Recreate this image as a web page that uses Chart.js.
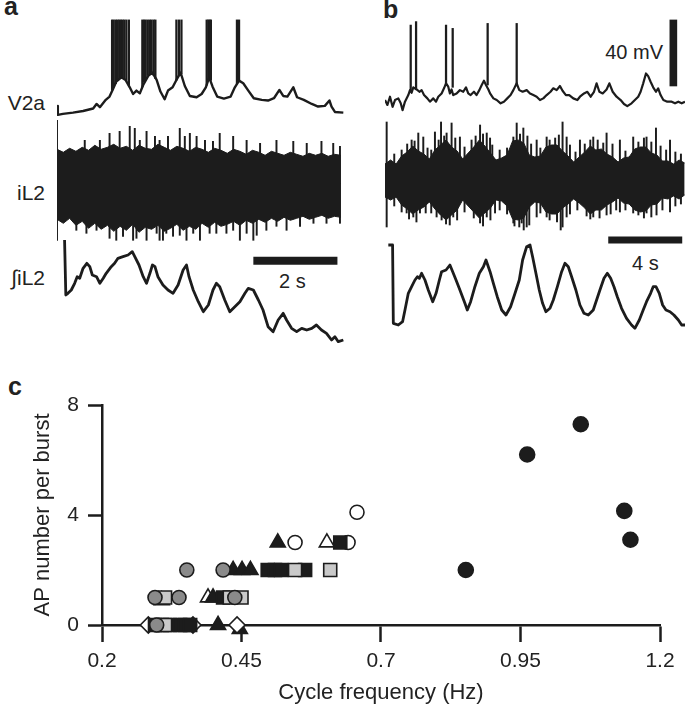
<!DOCTYPE html>
<html>
<head>
<meta charset="utf-8">
<script src="https://cdn.jsdelivr.net/npm/chart.js@4.4.0/dist/chart.umd.min.js"></script>
<style>
  body { margin: 0; background: #fff; width: 685px; height: 706px; position: relative; overflow: hidden;
         font-family: "Liberation Sans", Arial, Helvetica, sans-serif; color: #222; }
  canvas, .lbl { position: absolute; }
  .lbl { font-size: 20px; line-height: 1; white-space: nowrap; }
  .trace { font-size: 21px; }
  .panel { font-weight: bold; font-size: 25px; }
</style>
</head>
<body>
<div class="lbl panel" style="left:4px;top:-6px">a</div>
<div class="lbl panel" style="left:383px;top:-3px">b</div>
<div class="lbl panel" style="left:8px;top:374px">c</div>

<div class="lbl trace" style="right:640px;top:92px">V2a</div>
<div class="lbl trace" style="right:640px;top:182px">iL2</div>
<div class="lbl trace" style="right:640px;top:267px">∫iL2</div>
<div class="lbl" style="left:279px;top:271px">2 s</div>
<div class="lbl" style="right:22px;top:42px">40 mV</div>
<div class="lbl" style="left:632px;top:253px">4 s</div>

<canvas id="v2aA" style="left:57px;top:15px" width="288" height="110"></canvas>
<canvas id="il2A" style="left:57px;top:118px" width="288" height="130"></canvas>
<canvas id="intA" style="left:57px;top:238px" width="288" height="110"></canvas>
<canvas id="v2aB" style="left:385px;top:15px" width="300" height="105"></canvas>
<canvas id="il2B" style="left:385px;top:113px" width="300" height="122"></canvas>
<canvas id="intB" style="left:385px;top:228px" width="300" height="110"></canvas>
<canvas id="scatter" style="left:0;top:380px" width="685" height="326"></canvas>

<script>
const INK = '#1c1c1c';

// ---- panel a: V2a membrane potential (s, mV) ----
const v2aTimeA = [0,0.02,0.14,0.38,0.62,0.86,0.94,1.02,1.16,1.25,1.33,1.41,1.53,1.63,1.73,1.81,1.89,1.97,2.05,2.17,
  2.27,2.37,2.46,2.56,2.64,2.75,2.84,2.94,3.04,3.16,3.32,3.44,3.54,3.62,3.70,3.81,3.97,4.13,4.23,4.33,
  4.43,4.55,4.68,4.87,5.02,5.16,5.29,5.38,5.48,5.62,5.71,5.87,6.06,6.21,6.37,6.48,6.53,6.61,6.81];
const v2aMvA = [-55.7,-61.2,-60.6,-59.8,-58.8,-57.3,-54.5,-56.5,-52.0,-50.0,-45.5,-40.8,-38.2,-39.8,-44.3,-48.4,-46.3,-48.0,-42.9,-37.3,
  -35.3,-39.8,-46.9,-51.6,-46.3,-44.3,-39.8,-35.3,-43.5,-49.6,-50.4,-48.4,-44.3,-38.2,-43.9,-50.0,-51.2,-50.0,-44.3,-40.2,
  -41.8,-46.3,-51.0,-52.0,-52.4,-51.0,-45.9,-49.6,-50.0,-44.3,-50.4,-52.0,-54.5,-56.1,-55.7,-52.4,-56.1,-59.4,-59.8];
const spikeTimeA = [1.31,1.35,1.40,1.44,1.48,1.52,1.56,1.60,1.65,1.71, 2.03,2.07,2.11,2.16,2.21,2.25,2.30,2.34,
  2.84,2.90,2.96, 3.56,3.60,3.63,3.66, 4.28,4.33];
const spikeBaseA = [-46,-44,-42,-40,-39,-38,-38,-39,-40,-43, -44,-41,-39,-37,-36,-35,-37,-39,
  -40,-37,-36, -43,-40,-38,-40, -42,-40];
const spikePeakA = [-3,-3,-3,-3,-3,-3,-3,-3,-3,-3, -3,-3,-3,-3,-3,-3,-3,-3, -3,-3,-3, -3,-3,-3,-3, -3,-3];

// ---- panel a: iL2 ventral root (a.u.), envelope sampled every 0.15 s ----
const il2StepA = 0.15;
const il2UpperA = [3.4,3.1,3.5,3.2,3.6,3.3,3.8,3.4,3.6,3.9,3.5,3.7,3.3,3.8,3.5,3.4,3.9,3.6,3.3,3.7,3.5,3.2,3.6,
  3.4,3.1,3.5,3.3,3.0,3.4,3.2,2.9,3.3,3.1,2.8,3.2,3.0,2.8,3.1,2.9,2.7,3.0,2.8,3.0,2.7,2.9,2.8];
const il2LowerA = [-3.6,-4.0,-3.5,-4.2,-3.8,-4.5,-4.0,-4.6,-4.2,-4.8,-4.3,-4.7,-4.1,-4.9,-4.4,-4.6,-4.2,-4.8,-4.5,-4.1,-4.7,-4.3,-4.6,
  -4.0,-4.4,-3.9,-4.3,-4.1,-3.8,-4.2,-3.7,-4.0,-3.6,-3.9,-3.5,-3.8,-3.4,-3.7,-3.5,-3.3,-3.6,-3.4,-3.2,-3.5,-3.3,-3.4];
const il2UpTimeA = [0,0.66,1.02,1.25,1.49,1.73,1.85,1.97,2.13,2.33,2.44,2.64,2.92,3.04,3.16,3.32,3.52,3.71,3.87,4.19,
  4.51,4.83,5.22,5.62,5.94,6.29,6.57,6.73];
const il2UpA = [6.3,4.3,4.3,5.0,5.2,5.7,5.5,4.3,5.2,4.7,4.3,4.7,5.5,4.7,5.0,4.7,4.3,4.2,5.0,4.7,
  4.3,4.0,4.3,4.2,4.0,4.2,4.0,3.7];
const il2DownTimeA = [0,0.46,0.70,0.94,1.25,1.41,1.57,1.81,1.89,2.13,2.37,2.44,2.52,2.60,2.76,2.92,3.08,3.24,3.40,3.63,
  3.79,4.03,4.19,4.35,4.51,4.67,4.75,4.98,5.22,5.46,5.78,6.10,6.41,6.73];
const il2DownA = [-5.7,-4.7,-5.0,-4.7,-5.5,-5.7,-5.3,-5.7,-5.5,-5.7,-5.0,-5.7,-5.7,-5.0,-5.3,-5.2,-5.7,-5.0,-5.7,-5.0,
  -5.0,-5.0,-4.7,-5.7,-5.0,-5.7,-5.2,-4.7,-4.3,-4.7,-4.3,-4.0,-4.0,-4.0];

// ---- panel a: integrated iL2 (a.u.) ----
const intTimeA = [0.18,0.21,0.26,0.34,0.42,0.48,0.54,0.62,0.71,0.78,0.84,0.94,1.02,1.10,1.17,1.29,1.37,1.45,1.57,1.69,
  1.79,1.85,1.95,2.05,2.13,2.21,2.27,2.33,2.40,2.52,2.64,2.76,2.88,3.00,3.08,3.14,3.24,3.36,3.48,3.60,
  3.71,3.79,3.87,3.99,4.11,4.23,4.35,4.47,4.55,4.67,4.79,4.90,5.02,5.14,5.26,5.38,5.46,5.58,5.70,5.82,
  5.94,6.06,6.17,6.29,6.41,6.53,6.61,6.69,6.81];
const intValA = [6.0,0.5,0.67,1.0,1.67,2.33,2.17,3.17,3.67,3.33,2.5,2.33,1.67,2.17,2.67,3.33,3.67,4.17,4.33,4.5,
  4.83,4.33,3.5,2.33,1.67,2.67,3.5,3.33,2.33,1.5,1.0,0.67,1.5,3.0,3.5,2.33,1.0,-0.17,-1.17,-0.5,
  1.0,1.67,1.33,0,-1.17,-0.67,-0.17,0.67,1.17,1.0,0,-1.0,-2.67,-3.17,-2.0,-1.33,-2.0,-2.83,-3.17,-2.83,
  -3.0,-2.83,-2.5,-3.0,-3.33,-4.0,-3.67,-4.17,-4.0];
const barTimeA = [4.67, 6.67];   // 2 s scale bar
const barLevelA = [3.93, 3.93];

// ---- panel b: V2a (s, mV) ----
const v2aTimeB = [0,0.13,0.27,0.41,0.54,0.72,0.85,0.95,1.08,1.26,1.35,1.44,1.53,1.71,1.86,1.98,2.11,2.29,2.43,2.61,
  2.76,2.88,3.06,3.19,3.30,3.42,3.51,3.60,3.69,3.87,4.05,4.23,4.38,4.50,4.63,4.81,4.95,5.10,5.23,5.35,
  5.46,5.59,5.68,5.86,6.04,6.25,6.43,6.61,6.79,6.94,7.12,7.26,7.44,7.66,7.84,8.02,8.20,8.38,8.56,8.74,
  8.95,9.10,9.28,9.46,9.60,9.78,9.96,10.18,10.40,10.54,10.76,10.94,11.12,11.30,11.44,11.59,11.77,11.98,12.13,12.31,
  12.52,12.74,12.92,13.10,13.33,13.51,13.69,13.82,13.96,14.11,14.23,14.36,14.50,14.65,14.77,14.90,15.05,15.26,15.50,15.68,
  15.86,16.04,16.22];
const v2aMvB = [-51.5,-54.5,-49.5,-55.6,-51.5,-50.5,-53.5,-57.6,-52.5,-48.5,-45.5,-47.1,-43.8,-45.1,-46.5,-45.5,-48.5,-50.5,-52.5,-50.5,
  -52.5,-49.5,-47.5,-44.4,-41.4,-43.4,-47.5,-45.1,-48.5,-47.5,-45.5,-46.5,-43.8,-47.5,-48.5,-46.5,-48.5,-45.5,-42.4,-39.8,
  -42.4,-45.1,-47.5,-50.5,-51.5,-53.5,-52.5,-50.5,-48.5,-45.5,-41.4,-45.5,-46.5,-45.5,-47.5,-48.5,-49.5,-51.5,-50.5,-48.5,
  -46.5,-44.4,-45.5,-43.0,-45.9,-48.5,-48.5,-50.5,-51.5,-49.5,-47.5,-46.5,-49.5,-46.5,-41.4,-46.5,-47.5,-45.1,-41.4,-46.5,
  -49.5,-51.5,-53.9,-55.2,-53.5,-51.5,-49.5,-46.5,-41.4,-35.4,-37.0,-40.4,-43.8,-46.5,-44.4,-48.5,-51.5,-52.5,-52.5,-53.5,
  -52.5,-53.5,-52.5];
const spikeTimeB = [1.39,1.68,3.30,3.66,5.55,7.12];
const spikeBaseB = [-45.5,-44.4,-42.4,-43.8,-42.4,-42.4];
const spikePeakB = [-6.1,-4.0,-6.1,-8.1,-5.1,-5.1];
const mvBarTimeB = [15.59];     // 40 mV scale bar
const mvBarLowB = [-43];
const mvBarHighB = [-3];

// ---- panel b: iL2 (a.u.), envelope sampled every 0.3 s ----
const il2StepB = 0.3;
const il2UpperB = [1.6,2.0,1.6,2.4,2.8,3.4,2.9,2.6,2.1,3.0,3.5,4.0,3.3,2.9,2.1,2.7,3.3,4.0,3.4,2.7,2.0,2.2,2.5,3.9,4.0,
  3.7,2.5,2.3,2.4,3.3,3.5,3.5,2.9,2.4,1.8,2.3,2.8,3.4,3.0,3.1,2.6,2.3,1.8,2.2,2.3,3.1,3.3,3.3,2.7,2.5,1.9,1.9,1.6,2.0,1.7];
const il2LowerB = [-1.7,-2.0,-1.7,-2.5,-2.9,-3.4,-3.0,-2.7,-2.2,-2.9,-3.5,-4.0,-3.5,-3.0,-2.0,-2.6,-3.2,-3.8,-3.3,-2.8,-2.0,-2.1,-2.6,-3.9,-4.0,
  -3.8,-2.7,-2.2,-2.3,-3.2,-3.4,-3.4,-2.8,-2.4,-1.9,-2.3,-2.8,-3.4,-3.0,-3.0,-2.5,-2.2,-1.8,-2.3,-2.4,-3.0,-3.2,-3.1,-2.5,-2.4,-1.8,-1.9,-1.6,-1.9,-1.5];
const il2UpTimeB = [0.09,1.44,1.80,2.07,2.70,3.03,3.33,3.60,4.05,4.68,5.14,5.50,5.68,6.94,7.12,7.48,8.20,8.74,9.60,9.82,
  10.54,11.26,11.98,12.70,13.42,14.14,14.65,15.41,
  0.5,0.9,1.2,1.6,2.3,2.5,2.9,3.2,3.8,4.3,4.9,5.3,5.8,6.2,6.6,7.3,7.7,7.9,8.4,8.9,
  9.2,9.4,10.0,10.3,10.8,11.1,11.5,11.8,12.3,13.0,13.7,14.0,14.4,14.9,15.2,15.7,16.0];
const il2UpB = [5.8,4.0,4.7,4.3,4.8,5.8,4.7,5.7,4.3,4.0,5.5,4.7,4.2,4.3,5.7,5.2,4.0,4.3,5.8,4.3,
  4.0,4.3,4.7,4.0,4.3,4.3,5.2,4.0,
  2.6,3.0,3.6,3.9,3.2,3.0,4.0,4.4,4.2,3.3,4.4,4.6,3.5,3.0,3.2,4.6,4.4,3.6,3.2,4.0,
  4.2,4.5,3.5,2.8,3.6,4.0,4.0,3.7,3.6,2.9,3.8,4.2,3.8,3.4,3.0,2.8,2.6];
const il2DownTimeB = [0.09,1.17,1.53,1.89,2.79,3.06,3.69,5.14,5.50,5.95,6.94,7.26,7.39,7.66,8.20,8.74,9.60,9.82,11.26,11.98,
  12.70,13.42,14.14,14.68,15.41,
  0.5,0.9,1.3,1.7,2.2,2.5,3.3,3.5,3.9,4.3,4.8,5.3,5.7,6.2,6.6,7.0,7.5,7.8,8.4,8.9,
  9.3,9.5,10.0,10.4,10.9,11.1,11.6,12.2,12.5,13.0,13.7,14.0,14.4,15.0,15.7,16.0];
const il2DownB = [-4.7,-3.3,-3.7,-3.3,-3.7,-4.0,-3.7,-4.3,-3.7,-3.3,-4.3,-4.7,-4.3,-4.7,-3.7,-3.7,-4.7,-3.7,-3.7,-3.5,
  -3.2,-3.3,-3.3,-3.5,-3.2,
  -2.6,-3.2,-3.9,-4.2,-3.3,-3.3,-4.4,-4.5,-4.0,-3.2,-3.8,-4.6,-4.0,-3.0,-3.4,-4.6,-5.0,-4.5,-3.3,-4.0,
  -4.2,-5.0,-3.4,-3.0,-3.6,-3.9,-3.8,-3.4,-3.0,-3.0,-3.5,-3.8,-3.7,-3.0,-2.6,-2.4];

// ---- panel b: integrated iL2 (a.u.) ----
const intTimeB = [0.18,0.41,0.45,0.72,0.95,1.08,1.26,1.44,1.62,1.75,1.86,1.98,2.16,2.34,2.58,2.76,2.94,3.06,3.30,3.51,
  3.66,3.84,4.05,4.32,4.45,4.63,4.86,5.10,5.32,5.46,5.68,5.86,6.07,6.31,6.54,6.79,7.03,7.26,7.44,7.66,
  7.84,7.98,8.16,8.34,8.52,8.70,8.92,9.10,9.32,9.55,9.73,9.91,10.09,10.32,10.54,10.76,10.99,11.26,11.44,11.62,
  11.84,12.02,12.20,12.38,12.56,12.79,13.06,13.33,13.51,13.75,13.96,14.14,14.36,14.50,14.65,14.83,15.01,15.19,15.41,15.62,
  15.86,16.04,16.22];
const intValB = [5.5,5.5,-2.33,-2.5,-2.17,-1.0,0.67,1.33,2.0,2.33,2.17,2.67,2.0,1.0,-0.17,0.67,2.0,2.83,3.0,3.5,
  2.83,2.0,1.0,-0.33,-1.0,-0.17,1.33,2.67,3.33,4.0,2.83,1.67,0.33,-1.0,-1.5,-0.67,0.67,2.0,4.0,5.33,
  5.5,4.33,2.67,1.0,-0.33,-1.17,-0.83,0,1.33,2.83,3.67,3.33,2.33,1.0,-0.5,-1.33,-1.5,-1.0,0,1.0,
  2.17,2.67,2.17,1.33,0.33,-0.83,-1.83,-2.5,-2.83,-2.0,-1.0,-0.17,0.67,1.33,1.33,0.67,-0.5,-1.0,-1.17,-1.5,
  -2.0,-2.5,-2.5];
const barTimeB = [12.07, 16.07];  // 4 s scale bar
const barLevelB = [6.0, 6.0];

// ---- panel c: AP number per burst vs cycle frequency ----
const xTicks = [0.2, 0.45, 0.7, 0.95, 1.2];
const yTicks = [0, 4, 8];
const blackCircleX = [1.058, 0.962, 1.136, 1.147, 0.852];
const blackCircleY = [7.3, 6.2, 4.15, 3.1, 2.0];
const openCircleX = [0.657, 0.546, 0.641];
const openCircleY = [4.1, 3, 3];
const blackTriangleX = [0.515, 0.435, 0.451, 0.466, 0.408, 0.307, 0.399, 0.447];
const blackTriangleY = [3, 2, 2, 2, 0, 0.9, 1, -0.15];
const openTriangleX = [0.603, 0.39];
const openTriangleY = [3, 1];
const blackSquareX = [0.627, 0.497, 0.51, 0.521, 0.564, 0.417, 0.295, 0.307, 0.322, 0.34, 0.349, 0.358];
const blackSquareY = [3, 2, 2, 2, 2, 1, 0, 0, 0, 0, 0, 0];
const greySquareX = [0.546, 0.609, 0.313, 0.429, 0.45, 0.313];
const greySquareY = [2, 2, 1, 1, 1, 0];
const greyCircleX = [0.352, 0.417, 0.295, 0.338, 0.438, 0.298];
const greyCircleY = [2, 2, 1, 1, 1, 0];
const openDiamondX = [0.283, 0.363, 0.442];
const openDiamondY = [0, 0, 0];

const pts = (ts, vs) => ts.map((t, i) => ({ x: t, y: vs[i] }));
const sampled = (step, vs) => vs.map((v, i) => ({ x: i * step, y: v }));

function trace(data, width, extra) {
  return Object.assign({ type: 'line', data, borderColor: INK, borderWidth: width, pointRadius: 0,
    fill: false, borderJoinStyle: 'round' }, extra || {});
}
function bars(ts, lo, hi, width) {
  return { type: 'bar', data: ts.map((t, i) => ({ x: t, y: [Array.isArray(lo) ? lo[i] : lo, hi[i]] })),
    backgroundColor: INK, barThickness: width, grouped: false, borderWidth: 0 };
}

function traceChart(id, xMax, yMin, yMax, datasets) {
  return new Chart(document.getElementById(id), {
    type: 'line',
    data: { datasets },
    options: {
      responsive: false, animation: false, events: [],
      layout: { padding: 0 },
      plugins: { legend: { display: false }, tooltip: { enabled: false } },
      scales: {
        x: { type: 'linear', display: false, min: 0, max: xMax, offset: false },
        y: { type: 'linear', display: false, min: yMin, max: yMax }
      },
      elements: { line: { tension: 0 } }
    }
  });
}

// panel a
traceChart('v2aA', 6.85, -67.4, 0, [
  bars(spikeTimeA, spikeBaseA, spikePeakA, 1.6),
  trace(pts(v2aTimeA, v2aMvA), 2.4)
]);
traceChart('il2A', 6.85, -6.47, 6.53, [
  trace(sampled(il2StepA, il2UpperA), 1, { fill: '+1', backgroundColor: INK }),
  trace(sampled(il2StepA, il2LowerA), 1),
  bars(il2UpTimeA, 0, il2UpA, 1.3),
  bars(il2DownTimeA, 0, il2DownA, 1.3)
]);
traceChart('intA', 6.85, -4.8, 6.2, [
  trace(pts(intTimeA, intValA), 2.8),
  trace(pts(barTimeA, barLevelA), 8, { borderCapStyle: 'butt' })
]);

// panel b
traceChart('v2aB', 16.22, -63.6, 0, [
  bars(spikeTimeB, spikeBaseB, spikePeakB, 1.6),
  bars(mvBarTimeB, mvBarLowB, mvBarHighB, 7),
  trace(pts(v2aTimeB, v2aMvB), 2.2)
]);
traceChart('il2B', 16.22, -5.5, 6.7, [
  trace(sampled(il2StepB, il2UpperB), 1, { fill: '+1', backgroundColor: INK }),
  trace(sampled(il2StepB, il2LowerB), 1),
  bars(il2UpTimeB, 0, il2UpB, 1.3),
  bars(il2DownTimeB, 0, il2DownB, 1.3)
]);
traceChart('intB', 16.22, -3.8, 7.2, [
  trace(pts(intTimeB, intValB), 2.8),
  trace(pts(barTimeB, barLevelB), 7, { borderCapStyle: 'butt' })
]);

// panel c
function marks(xs, ys, style, fill, radius) {
  return { data: pts(xs, ys), pointStyle: style, pointRadius: radius, backgroundColor: fill,
    borderColor: INK, borderWidth: 1.6, clip: false };
}
const TICKFONT = { family: '"Liberation Sans", Arial, sans-serif', size: 21 };
const TITLEFONT = { family: '"Liberation Sans", Arial, sans-serif', size: 22 };
new Chart(document.getElementById('scatter'), {
  type: 'scatter',
  data: {
    datasets: [
      marks(greyCircleX, greyCircleY, 'circle', '#8a8a8a', 7),
      marks(greySquareX, greySquareY, 'rect', '#c9c9c9', 9.2),
      marks(blackSquareX, blackSquareY, 'rect', INK, 9.2),
      marks(openDiamondX, openDiamondY, 'rectRot', '#fff', 8),
      marks(blackTriangleX, blackTriangleY, 'triangle', INK, 8.7),
      marks(openTriangleX, openTriangleY, 'triangle', '#fff', 8.7),
      marks(openCircleX, openCircleY, 'circle', '#fff', 7),
      marks(blackCircleX, blackCircleY, 'circle', INK, 7.5)
    ]
  },
  options: {
    responsive: false, animation: false, events: [],
    layout: { padding: { top: 25, right: 25, left: 0, bottom: 0 } },
    plugins: { legend: { display: false }, tooltip: { enabled: false } },
    scales: {
      x: {
        type: 'linear', min: 0.2, max: 1.2,
        afterBuildTicks: s => { s.ticks = xTicks.map(v => ({ value: v })); },
        afterFit: s => { s.height = 81; },
        ticks: { color: '#222', font: TICKFONT, padding: 7, maxRotation: 0, callback: v => String(v) },
        grid: { drawOnChartArea: false, drawTicks: true, tickLength: 17, tickWidth: 2.5, tickColor: INK },
        border: { display: true, width: 2.5, color: INK },
        title: { display: true, text: 'Cycle frequency (Hz)', color: '#222', font: TITLEFONT, padding: { top: 0, bottom: 0 } }
      },
      y: {
        type: 'linear', min: 0, max: 8,
        afterBuildTicks: s => { s.ticks = yTicks.map(v => ({ value: v })); },
        afterFit: s => { s.width = 102; },
        ticks: { color: '#222', font: TICKFONT, padding: 9, callback: v => String(v) },
        grid: { drawOnChartArea: false, drawTicks: true, tickLength: 14, tickWidth: 2.5, tickColor: INK },
        border: { display: true, width: 2.5, color: INK },
        title: { display: true, text: 'AP number per burst', color: '#222', font: TITLEFONT, padding: { top: 30, bottom: 0 } }
      }
    }
  }
});
</script>
</body>
</html>
